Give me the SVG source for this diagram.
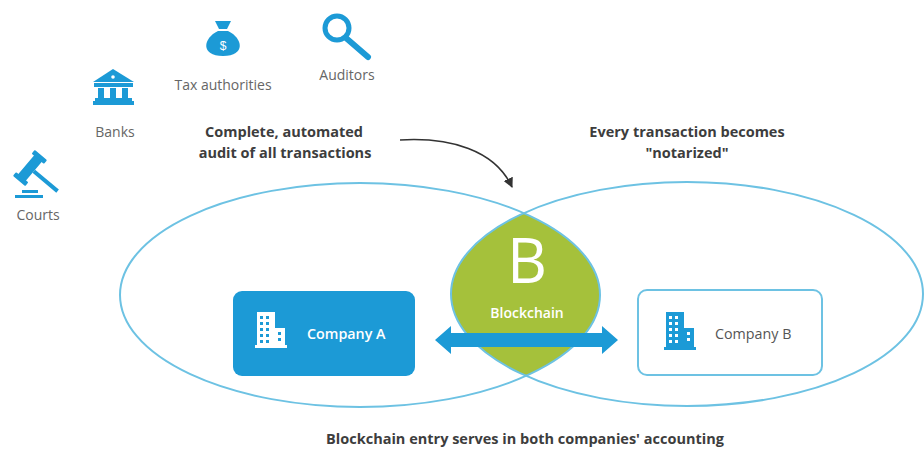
<svg xmlns="http://www.w3.org/2000/svg" width="924" height="451" viewBox="0 0 924 451">
<defs>
<style>
.lbl{font-family:"Open Sans","Liberation Sans",sans-serif;font-size:14px;fill:#666;}
.bold{font-family:"Open Sans","Liberation Sans",sans-serif;font-size:14.5px;font-weight:bold;fill:#3d3d3d;}
.ico{fill:#1c9ad6;}
.ell{fill:none;stroke:#6dc2e3;stroke-width:2;}
.comp{font-family:"Open Sans","Liberation Sans",sans-serif;font-size:14.3px;}
</style>
<clipPath id="clipL"><ellipse cx="360" cy="295" rx="240" ry="112"/></clipPath>
<marker id="ah" viewBox="0 0 10 10" refX="9" refY="5" markerWidth="10" markerHeight="10" markerUnits="userSpaceOnUse" orient="auto">
<path d="M0,0 L10,5 L0,10 Z" fill="#333"/>
</marker>
</defs>
<rect width="924" height="451" fill="#fff"/>

<g id="courts">
<g class="ico" transform="rotate(40 30 168)">
<rect x="25" y="154" width="10" height="28" rx="1.5"/>
<rect x="22" y="151" width="16" height="5" rx="1"/>
<rect x="22" y="180" width="16" height="5" rx="1"/>
<rect x="35" y="166" width="31" height="4"/>
</g>
<rect class="ico" x="22" y="190" width="16" height="3"/>
<rect class="ico" x="15" y="195" width="28" height="3"/>
<text class="lbl" x="38" y="220" text-anchor="middle">Courts</text>
</g>

<g id="banks">
<path class="ico" d="M93,82 L113,69 L134,82 Z"/>
<rect class="ico" x="94" y="83" width="39" height="4"/>
<rect class="ico" x="98" y="88" width="6" height="10"/>
<rect class="ico" x="110" y="88" width="6" height="10"/>
<rect class="ico" x="122" y="88" width="6" height="10"/>
<rect class="ico" x="95" y="98" width="37" height="3"/>
<rect class="ico" x="93" y="101" width="41" height="4"/>
<circle cx="113" cy="77" r="1.8" fill="#fff"/>
<text class="lbl" x="115" y="137" text-anchor="middle">Banks</text>
</g>

<g id="tax">
<path class="ico" d="M215,21 L231,21 L227,29 L219,29 Z"/>
<path class="ico" d="M218,31 C203,38 200,56 223,56 C246,56 243,38 228,31 Z"/>
<text x="223" y="50" text-anchor="middle" font-family="Liberation Sans,sans-serif" font-size="12" fill="#fff">$</text>
<text class="lbl" x="223" y="90" text-anchor="middle">Tax authorities</text>
</g>

<g id="auditors">
<circle cx="337" cy="28" r="12" fill="none" stroke="#1c9ad6" stroke-width="5"/>
<line x1="346" y1="38" x2="368" y2="57" stroke="#1c9ad6" stroke-width="6" stroke-linecap="round"/>
<text class="lbl" x="347" y="80" text-anchor="middle">Auditors</text>
</g>

<g id="audit-note">
<text class="bold" x="284" y="137" text-anchor="middle">Complete, automated</text>
<text class="bold" x="285" y="158" text-anchor="middle">audit of all transactions</text>
</g>

<g id="notary-note">
<text class="bold" x="687" y="137" text-anchor="middle">Every transaction becomes</text>
<text class="bold" x="687" y="158" text-anchor="middle">"notarized"</text>
</g>

<g id="blockchain">
<ellipse cx="687" cy="294" rx="236" ry="112" fill="#a5c13b" clip-path="url(#clipL)"/>
<text x="527" y="283" text-anchor="middle" font-family="Open Sans,Liberation Sans,sans-serif" font-size="62" fill="#fff">B</text>
<text x="527" y="318" text-anchor="middle" font-family="Open Sans,Liberation Sans,sans-serif" font-size="14" font-weight="600" fill="#fff">Blockchain</text>
</g>

<g id="ellipses">
<ellipse class="ell" cx="360" cy="295" rx="240" ry="112"/>
<ellipse class="ell" cx="687" cy="294" rx="236" ry="112"/>
</g>

<g id="company-a">
<rect x="233" y="291" width="182" height="85" rx="9" fill="#1c9ad6"/>
<rect x="257" y="312" width="18" height="34" fill="#fff"/>
<rect x="275" y="328" width="10" height="18" fill="#fff"/>
<rect x="255" y="345" width="32" height="3" fill="#fff"/>
<g fill="#1c9ad6">
<rect x="260" y="316" width="3" height="3"/><rect x="266" y="316" width="3" height="3"/>
<rect x="260" y="322" width="3" height="3"/><rect x="266" y="322" width="3" height="3"/>
<rect x="260" y="328" width="3" height="3"/><rect x="266" y="328" width="3" height="3"/><rect x="278" y="332" width="3" height="3"/>
<rect x="260" y="334" width="3" height="3"/><rect x="266" y="334" width="3" height="3"/><rect x="278" y="338" width="3" height="3"/>
<rect x="260" y="340" width="3" height="3"/><rect x="266" y="340" width="3" height="3"/>
</g>
<text class="comp" x="307" y="339" fill="#fff" font-weight="600">Company A</text>
</g>

<g id="company-b">
<rect x="638" y="290" width="184" height="85" rx="9" fill="#fff" stroke="#6dc2e3" stroke-width="2"/>
<rect x="666" y="312" width="18" height="36" fill="#1c9ad6"/>
<rect x="684" y="328" width="10" height="20" fill="#1c9ad6"/>
<rect x="664" y="347" width="32" height="3" fill="#1c9ad6"/>
<g fill="#fff">
<rect x="669" y="316" width="3" height="3"/><rect x="675" y="316" width="3" height="3"/>
<rect x="669" y="322" width="3" height="3"/><rect x="675" y="322" width="3" height="3"/>
<rect x="669" y="328" width="3" height="3"/><rect x="675" y="328" width="3" height="3"/><rect x="687" y="332" width="3" height="3"/>
<rect x="669" y="334" width="3" height="3"/><rect x="675" y="334" width="3" height="3"/><rect x="687" y="338" width="3" height="3"/>
<rect x="669" y="340" width="3" height="3"/><rect x="675" y="340" width="3" height="3"/>
</g>
<text class="comp" x="715" y="339" fill="#555">Company B</text>
</g>

<g id="connectors">
<path d="M435,340 L451,326 L451,333 L602,333 L602,326 L618,340 L602,354 L602,347 L451,347 L451,354 Z" fill="#1c9ad6"/>
<path d="M400,140 C450,137 495,150 512,187" fill="none" stroke="#333" stroke-width="1.6" marker-end="url(#ah)"/>
</g>

<text class="bold" x="525" y="444" text-anchor="middle">Blockchain entry serves in both companies' accounting</text>
</svg>
